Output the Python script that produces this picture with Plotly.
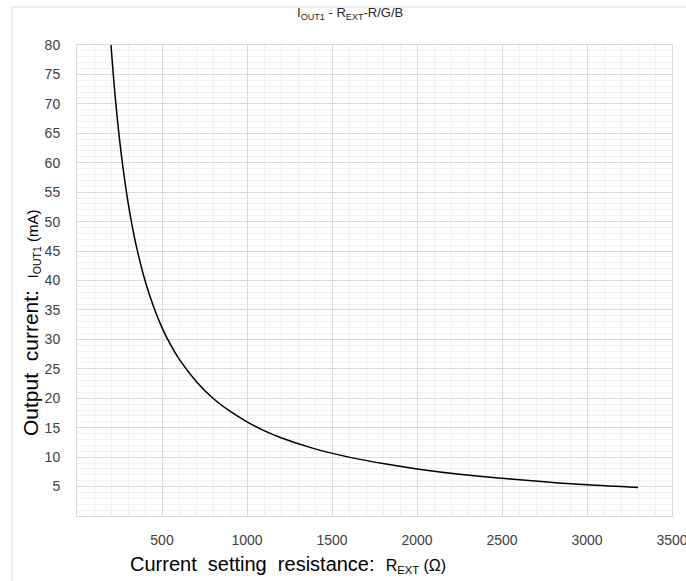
import plotly.graph_objects as go

# Data
r_ext = [200, 225, 250, 275, 300, 325, 350, 400, 450, 500, 550, 600, 700, 800, 900,
         1000, 1100, 1200, 1400, 1600, 1800, 2000, 2250, 2500, 2750, 3000, 3300]
i_out = [80.0, 71.1, 64.0, 58.2, 53.3, 49.2, 45.7, 40.0, 35.6, 32.0, 29.1, 26.7, 22.9, 20.0, 17.8,
         16.0, 14.5, 13.3, 11.4, 10.0, 8.9, 8.0, 7.1, 6.4, 5.8, 5.3, 4.85]

x_ticks = [500, 1000, 1500, 2000, 2500, 3000, 3500]
y_ticks = [5, 10, 15, 20, 25, 30, 35, 40, 45, 50, 55, 60, 65, 70, 75, 80]

W, H = 686, 581
L, R, T, B = 77, 14, 45, 65
PW, PH = W - L - R, H - T - B

def px(x):
    return (x - L) / PW

def py(y):
    return (H - B - y) / PH

FONT = "Liberation Sans, Arial, sans-serif"

fig = go.Figure()
fig.add_trace(go.Scatter(
    x=r_ext, y=i_out, mode="lines",
    line=dict(color="#000000", width=1.5, shape="spline"),
    showlegend=False, hoverinfo="skip",
))

axis_common = dict(
    showgrid=True, gridcolor="#d9d9d9", gridwidth=1,
    showline=True, linecolor="#d9d9d9", linewidth=1, mirror=True,
    zeroline=False, ticks="",
    tickfont=dict(family=FONT, size=14, color="#404040"),
    ticklabeloverflow="allow",
)

fig.update_xaxes(
    range=[0, 3500], tickmode="array", tickvals=x_ticks,
    ticktext=[str(v) for v in x_ticks],
    minor=dict(dtick=100, showgrid=True, gridcolor="#f0f0f0", gridwidth=1),
    ticklabelstandoff=11,
    **axis_common,
)
fig.update_yaxes(
    range=[0, 80], tickmode="array", tickvals=y_ticks,
    ticktext=[str(v) for v in y_ticks],
    minor=dict(dtick=1, showgrid=True, gridcolor="#f0f0f0", gridwidth=1),
    ticklabelstandoff=13,
    **axis_common,
)

annotations = [
    dict(x=px(350), y=py(13), xref="paper", yref="paper",
         text="I<sub>OUT1</sub> - R<sub>EXT</sub>-R/G/B",
         showarrow=False, font=dict(family=FONT, size=13, color="#262626"),
         xanchor="center", yanchor="middle"),
    dict(x=px(288), y=py(564), xref="paper", yref="paper",
         text="Current&nbsp; setting&nbsp; resistance:&nbsp; "
              "<span style='font-size:16px'>R<sub>EXT</sub> (Ω)</span>",
         showarrow=False, font=dict(family=FONT, size=20, color="#000000"),
         xanchor="center", yanchor="middle"),
    dict(x=px(31), y=py(323), xref="paper", yref="paper",
         text="Output&nbsp; current:&nbsp; "
              "<span style='font-size:15px'>I<sub>OUT1</sub> (mA)</span>",
         showarrow=False, textangle=-90, font=dict(family=FONT, size=21, color="#000000"),
         xanchor="center", yanchor="middle", bgcolor="#ffffff"),
]

shapes = [
    dict(type="line", xref="paper", yref="paper", x0=px(12), x1=px(686), y0=py(7), y1=py(7),
         line=dict(color="#d9d9d9", width=1)),
    dict(type="line", xref="paper", yref="paper", x0=px(12), x1=px(12), y0=py(7), y1=py(581),
         line=dict(color="#d9d9d9", width=1), layer="below"),
]

fig.update_layout(
    width=W, height=H,
    margin=dict(l=L, r=R, t=T, b=B, autoexpand=False),
    paper_bgcolor="#ffffff", plot_bgcolor="#ffffff",
    annotations=annotations, shapes=shapes,
    showlegend=False,
)

fig.write_html("out.html", config={"displayModeBar": False},
               post_script="document.body.style.margin='0';document.body.style.overflow='hidden';")
